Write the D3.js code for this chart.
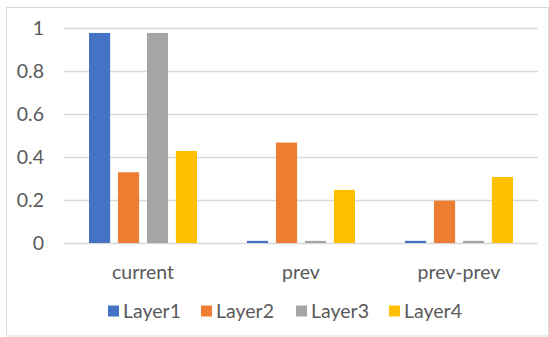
<!DOCTYPE html>
<html>
<head>
<meta charset="utf-8">
<script src="https://cdn.jsdelivr.net/npm/d3@7"></script>
<style>
  body { margin: 0; background: #fff; }
  text { font-family: Lato, "Open Sans", sans-serif; fill: #595959; }
</style>
</head>
<body>
<div id="chart"></div>
<script>
var categories = ["current", "prev", "prev-prev"]
var seriesNames = ["Layer1", "Layer2", "Layer3", "Layer4"]
var seriesColors = ["#4472C4", "#ED7D31", "#A5A5A5", "#FFC000"]
var layer1 = [0.977, 0.01, 0.01]
var layer2 = [0.329, 0.467, 0.197]
var layer3 = [0.977, 0.01, 0.01]
var layer4 = [0.428, 0.247, 0.307]
var yTicks = [0, 0.2, 0.4, 0.6, 0.8, 1]
var yTickLabels = ["0", "0.2", "0.4", "0.6", "0.8", "1"]

var values = [layer1, layer2, layer3, layer4]

var W = 549, H = 337
var plotLeft = 64, plotRight = 538, plotTop = 28, plotBottom = 243

var svg = d3.select("#chart").append("svg")
  .attr("width", W)
  .attr("height", H)

// chart border
svg.append("rect")
  .attr("x", 6.5).attr("y", 7.5)
  .attr("width", 542).attr("height", 328.5)
  .attr("fill", "white")
  .attr("stroke", "#d9d9d9")
  .attr("stroke-width", 1)

var y = d3.scaleLinear().domain([0, 1]).range([plotBottom, plotTop])

var x0 = d3.scaleBand().domain(categories).range([plotLeft, plotRight]).padding(0)

var x1 = d3.scaleBand().domain(seriesNames)
  .range([25, x0.bandwidth() - 25])
  .paddingInner(0.27)
  .paddingOuter(0)

// gridlines
svg.append("g").selectAll("line")
  .data(yTicks)
  .enter()
  .append("line")
  .attr("x1", plotLeft)
  .attr("x2", plotRight)
  .attr("y1", function(d) { return Math.round(y(d)) + 0.5 })
  .attr("y2", function(d) { return Math.round(y(d)) + 0.5 })
  .attr("stroke", "#d9d9d9")
  .attr("stroke-width", 1.3)

// y labels
svg.append("g").selectAll("text")
  .data(yTicks)
  .enter()
  .append("text")
  .attr("x", 44)
  .attr("y", function(d) { return y(d) })
  .attr("dy", "0.35em")
  .attr("text-anchor", "end")
  .style("font-size", "19.5px")
  .text(function(d, i) { return yTickLabels[i] })

// bars
var groups = svg.append("g").selectAll("g")
  .data(categories)
  .enter()
  .append("g")
  .attr("transform", function(d) { return "translate(" + x0(d) + ",0)" })

groups.selectAll("rect")
  .data(function(d, ci) {
    return seriesNames.map(function(s, si) {
      return { series: s, value: values[si][ci], color: seriesColors[si] }
    })
  })
  .enter()
  .append("rect")
  .attr("x", function(d) { return x1(d.series) })
  .attr("y", function(d) { return y(d.value) })
  .attr("width", x1.bandwidth())
  .attr("height", function(d) { return plotBottom - y(d.value) })
  .attr("fill", function(d) { return d.color })

// category labels
svg.append("g").selectAll("text")
  .data(categories)
  .enter()
  .append("text")
  .attr("x", function(d) { return x0(d) + x0.bandwidth() / 2 })
  .attr("y", 272)
  .attr("dy", "0.35em")
  .attr("text-anchor", "middle")
  .style("font-size", "19.5px")
  .text(function(d) { return d })

// legend
var legendX = [108, 201, 296, 389]
var legend = svg.append("g").selectAll("g")
  .data(seriesNames)
  .enter()
  .append("g")
  .attr("transform", function(d, i) { return "translate(" + legendX[i] + ",311)" })

legend.append("rect")
  .attr("x", 0).attr("y", -5.5)
  .attr("width", 11).attr("height", 11)
  .attr("fill", function(d, i) { return seriesColors[i] })

legend.append("text")
  .attr("x", 15)
  .attr("y", 0)
  .attr("dy", "0.35em")
  .style("font-size", "19.5px")
  .text(function(d) { return d })
</script>
</body>
</html>
